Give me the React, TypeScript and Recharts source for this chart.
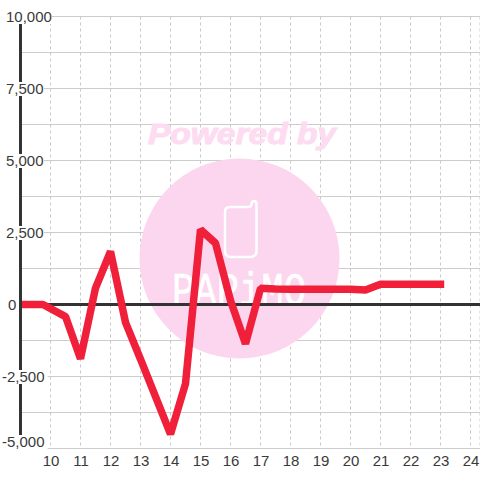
import { LineChart, Line, XAxis, YAxis, CartesianGrid, ReferenceLine } from "recharts";

const hours = [9, 9.75, 10.5, 11, 11.5, 12, 12.5, 13, 13.5, 14, 14.5, 15, 15.5, 16, 16.5, 17, 17.5, 18, 19, 20, 20.5, 21, 22, 23];
const balance = [0, 0, -420, -1880, 570, 1840, -620, -1900, -3200, -4500, -2750, 2600, 2130, 140, -1360, 560, 540, 530, 530, 530, 500, 700, 700, 700];
const xTicks = [10, 11, 12, 13, 14, 15, 16, 17, 18, 19, 20, 21, 22, 23, 24];
const yTicks = [-5000, -3750, -2500, -1250, 0, 1250, 2500, 3750, 5000, 6250, 7500, 8750, 10000];
const yLabels: Record<number, string> = {
  [-5000]: "-5,000",
  [-2500]: "-2,500",
  0: "0",
  2500: "2,500",
  5000: "5,000",
  7500: "7,500",
  10000: "10,000",
};

const data = hours.map((hour, i) => ({ hour, balance: balance[i] }));

const FONT = '"Liberation Sans", Arial, sans-serif';

function YTick({ y, payload }: any) {
  const label = yLabels[payload.value];
  if (!label) return null;
  const left = payload.value < 0 ? 2 : payload.value === 0 ? 8 : 6;
  const width = label.length * 7.6;
  const base = payload.value === -5000 ? y - 1.5 : y + 5.5;
  return (
    <g>
      <rect x={left} y={base - 12} width={width} height={14} fill="#fff" />
      <text x={left} y={base} fontSize={15} fontFamily={FONT} fill="#3a3a3a">
        {label}
      </text>
    </g>
  );
}

function XTick({ x, payload }: any) {
  return (
    <text x={x + 0.5} y={466} textAnchor="middle" fontSize={15} fontFamily={FONT} fill="#3a3a3a">
      {payload.value}
    </text>
  );
}

function Watermark() {
  return (
    <g>
      <circle cx={239.5} cy={258.5} r={100} fill="#fcd5ee" />
      <text x={148} y={144} fontSize={29} fontWeight="bold" fontStyle="italic" fontFamily={FONT} fill="#fddcf1" stroke="#fddcf1" strokeWidth={1} textLength={188} lengthAdjust="spacingAndGlyphs">
        Powered by
      </text>
      <path
        d="M230 207 H249 Q251 207 251.5 204 Q252 201 254 201 Q256.5 201 256.5 204 V251 Q256.5 257 250 257 H231 Q225 257 225 251 V212 Q225 207 230 207 Z"
        fill="none"
        stroke="#fff"
        strokeWidth={2.5}
      />
      <text x={172} y={305} fontSize={46} fontFamily='"Liberation Mono", monospace' fill="#fff" stroke="#fff" strokeWidth={0.6} textLength={134} lengthAdjust="spacingAndGlyphs">
        PAPiMO
      </text>
    </g>
  );
}

export default function App() {
  return (
    <div style={{ position: "absolute", left: 0, top: 0, width: 480, height: 480, background: "#fff" }}>
      <LineChart width={480} height={480} data={data} margin={{ top: 16.5, right: 0, left: 0, bottom: 0 }}>
        <Watermark />
        <CartesianGrid vertical={false} stroke="#ccc" strokeWidth={1} />
        <CartesianGrid horizontal={false} stroke="#c8c8c8" strokeWidth={1} strokeDasharray="3 3" />
        <XAxis
          dataKey="hour"
          type="number"
          domain={[9, 24.317]}
          ticks={xTicks}
          interval={0}
          height={31.5}
          axisLine={false}
          tickLine={false}
          tick={<XTick />}
          allowDataOverflow
        />
        <YAxis
          domain={[-5000, 10000]}
          ticks={yTicks}
          interval={0}
          width={20.5}
          axisLine={{ stroke: "#333", strokeWidth: 3 }}
          tickLine={false}
          tick={<YTick />}
          allowDataOverflow
        />
        <ReferenceLine y={0} stroke="#333" strokeWidth={3} />
        <Line
          dataKey="balance"
          type="linear"
          stroke="#f0203a"
          strokeWidth={7.5}
          strokeLinecap="square"
          strokeLinejoin="bevel"
          dot={false}
          activeDot={false}
          isAnimationActive={false}
        />
      </LineChart>
    </div>
  );
}
